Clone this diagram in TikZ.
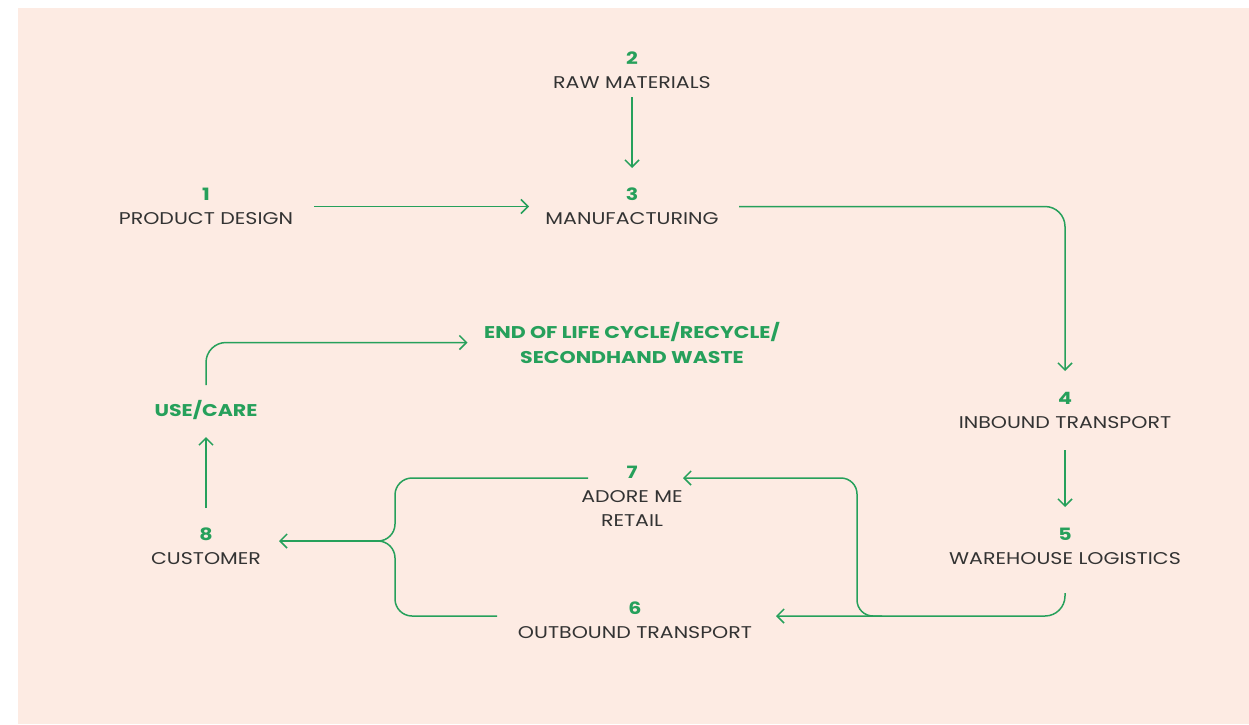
\documentclass[tikz,border=0pt]{standalone}
\usepackage{fontspec}
\setmainfont{Poppins}[FakeStretch=1.21]
\usetikzlibrary{arrows.meta,calc}
\definecolor{bg}{HTML}{FDEBE3}
\definecolor{grn}{HTML}{26A05B}
\definecolor{txt}{HTML}{333333}
\begin{document}
\begin{tikzpicture}[x=1pt,y=-1pt,
  lbl/.style={align=center,inner sep=0pt,text=txt,font=\fontsize{17}{24}\selectfont},
  glbl/.style={align=center,inner sep=0pt,text=grn,font=\fontsize{17}{25}\selectfont\bfseries},
  conn/.style={draw=grn,line width=1.5pt},
  arr/.style={conn,-{Straight Barb[length=7pt,width=14pt,line width=1.5pt]}}]
\useasboundingbox (0,0) rectangle (1249,724);
\fill[bg] (18,8) rectangle (1249,724);
\newcommand{\num}[1]{\textcolor{grn}{\bfseries #1}}
\node[lbl] (b1) at (206,206.5) {\num{1}\\PRODUCT DESIGN};
\node[lbl] (b2) at (632,70.5) {\num{2}\\RAW MATERIALS};
\node[lbl] (b3) at (632,206.5) {\num{3}\\MANUFACTURING};
\node[lbl] (b4) at (1065,410) {\num{4}\\INBOUND TRANSPORT};
\node[lbl] (b5) at (1065,546.5) {\num{5}\\WAREHOUSE LOGISTICS};
\node[lbl] (b6) at (635,620) {\num{6}\\OUTBOUND TRANSPORT};
\node[lbl] (b7) at (632,496) {\num{7}\\ADORE ME\\RETAIL};
\node[lbl] (b8) at (206,546.5) {\num{8}\\CUSTOMER};
\node[glbl] (use) at (206,410) {USE/CARE};
\node[glbl] (eol) at (632,342.5) {END OF LIFE CYCLE/RECYCLE/\\SECONDHAND WASTE};
\coordinate (j) at (378,541);
% connectors
\draw[arr] ([yshift=-26.5pt]b2.center) -- ([yshift=38.5pt]b3.center);
\draw[arr] ([xshift=108pt]b1.center) -- ([xshift=-103pt]b3.center);
\draw[arr,rounded corners=20pt] ([xshift=107pt]b3.center) -| ([yshift=39pt]b4.center);
\draw[arr] ([yshift=-40pt]b4.center) -- ([yshift=39.5pt]b5.center);
\draw[arr,rounded corners=20pt] ([yshift=-46.5pt]b5.center) |- ([xshift=141pt,yshift=4pt]b6.center);
\coordinate (br) at ([xshift=247pt,yshift=4pt]b6.center);
\draw[arr,rounded corners=16pt] (br) -- ++(-25,0) |- ([xshift=51pt,yshift=18pt]b7.center);
\draw[conn,rounded corners=17pt] ([xshift=-44pt,yshift=18pt]b7.center) -| ([xshift=17pt]j) -- (j);
\draw[conn,rounded corners=17pt] ([xshift=-138pt,yshift=4pt]b6.center) -| ([xshift=17pt]j) -- (j);
\draw[arr] (j) -- ([xshift=73pt,yshift=5.5pt]b8.center);
\draw[arr] ([yshift=38.5pt]b8.center) -- ([yshift=-27pt]use.center);
\draw[arr,rounded corners=20pt] ([yshift=25pt]use.center) |- ([xshift=-164.5pt]eol.center);
\end{tikzpicture}
\end{document}
